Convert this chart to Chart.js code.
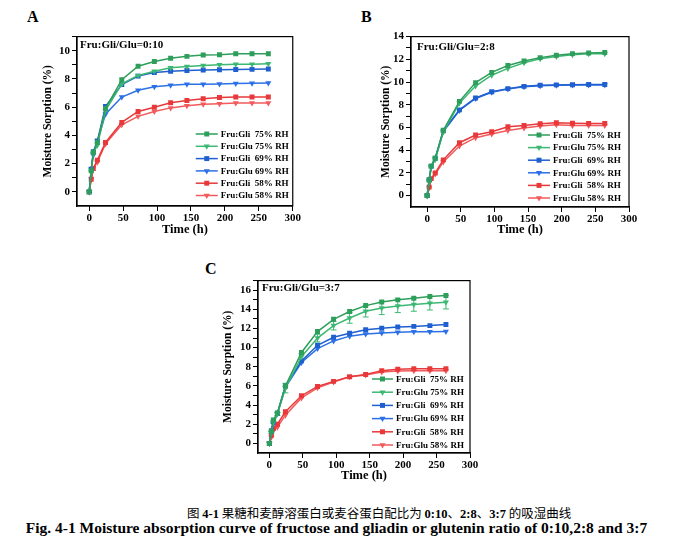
<!DOCTYPE html>
<html>
<head>
<meta charset="utf-8">
<script src="https://cdn.jsdelivr.net/npm/chart.js@4.4.1/dist/chart.umd.min.js"></script>
<style>
  body { margin: 0; background: #fff; width: 673px; height: 559px; position: relative; overflow: hidden; }
  canvas { position: absolute; }
  .tag { position: absolute; font: bold 16px "Liberation Serif", serif; color: #000; }
  .cap { position: absolute; white-space: nowrap; color: #000; }
  .num { font-family: "Liberation Serif", serif; font-weight: bold; }
</style>
</head>
<body>
<div class="tag" style="left:27px;top:8px">A</div>
<div class="tag" style="left:361px;top:8px">B</div>
<div class="tag" style="left:205px;top:260px">C</div>

<canvas id="chartA" width="272" height="215" style="left:30px;top:28px"></canvas>
<canvas id="chartB" width="274" height="217" style="left:365px;top:28px"></canvas>
<canvas id="chartC" width="268" height="218" style="left:212px;top:272px"></canvas>

<div class="cap" style="left:187px;top:503px;font-size:12.5px;font-family:'Noto Sans CJK SC',sans-serif">图 <span class="num">4-1</span> 果糖和麦醇溶蛋白或麦谷蛋白配比为 <span class="num">0:10</span>、<span class="num">2:8</span>、<span class="num">3:7</span> 的吸湿曲线</div>
<div class="cap" style="left:0;width:673px;text-align:center;top:519px;font:bold 15.5px 'Liberation Serif',serif">Fig. 4-1 Moisture absorption curve of fructose and gliadin or glutenin ratio of 0:10,2:8 and 3:7</div>

<script>
const hours = [0, 3, 6, 12, 24, 48, 72, 96, 120, 144, 168, 192, 216, 240, 264];

const seriesNames = ["Fru:Gli  75% RH", "Fru:Glu 75% RH", "Fru:Gli  69% RH", "Fru:Glu 69% RH", "Fru:Gli  58% RH", "Fru:Glu 58% RH"];
const seriesColors = ["#2e9e5b", "#3cb873", "#1f5fcf", "#2b70e6", "#e8383a", "#f25a5c"];
const seriesShapes = ["rect", "triangle", "rect", "triangle", "rect", "triangle"];

// panel A  Fru:Gli/Glu = 0:10
const aGli75 = [0, 1.5, 2.8, 3.5, 5.9, 7.95, 8.9, 9.23, 9.47, 9.6, 9.7, 9.72, 9.78, 9.78, 9.78];
const aGlu75 = [0, 1.4, 2.7, 3.3, 5.75, 7.65, 8.25, 8.55, 8.8, 8.88, 8.95, 9.0, 9.05, 9.05, 9.07];
const aGli69 = [0, 1.6, 2.85, 3.6, 6.05, 7.6, 8.2, 8.45, 8.55, 8.6, 8.63, 8.65, 8.67, 8.68, 8.7];
const aGlu69 = [0, 1.6, 2.6, 3.6, 5.5, 6.72, 7.2, 7.45, 7.55, 7.62, 7.63, 7.65, 7.68, 7.7, 7.72];
const aGli58 = [0, 0.9, 1.65, 2.25, 3.5, 4.92, 5.7, 6.0, 6.32, 6.48, 6.6, 6.68, 6.72, 6.72, 6.72];
const aGlu58 = [0, 0.9, 1.7, 2.1, 3.4, 4.75, 5.35, 5.7, 5.95, 6.1, 6.2, 6.25, 6.3, 6.3, 6.3];

// panel B  2:8
const bGli75 = [0, 1.4, 2.6, 3.3, 5.75, 8.3, 9.95, 10.85, 11.45, 11.85, 12.15, 12.35, 12.5, 12.55, 12.6];
const bGlu75 = [0, 1.2, 2.5, 3.2, 5.6, 8.15, 9.65, 10.6, 11.2, 11.7, 12.05, 12.25, 12.4, 12.5, 12.5];
const bGli69 = [0, 1.4, 2.6, 3.3, 5.7, 7.55, 8.6, 9.15, 9.42, 9.62, 9.72, 9.75, 9.77, 9.78, 9.78];
const bGlu69 = [0, 1.3, 2.5, 3.2, 5.65, 7.5, 8.55, 9.1, 9.38, 9.58, 9.68, 9.72, 9.74, 9.75, 9.75];
const bGli58 = [0, 0.75, 1.5, 2.0, 3.15, 4.66, 5.34, 5.63, 6.06, 6.18, 6.33, 6.41, 6.38, 6.36, 6.36];
const bGlu58 = [0, 0.67, 1.45, 1.9, 2.97, 4.37, 5.1, 5.42, 5.74, 5.95, 6.12, 6.24, 6.18, 6.18, 6.18];

// panel C  3:7
const cGli75 = [0, 1.25, 2.45, 3.17, 6.0, 9.5, 11.68, 12.96, 13.77, 14.39, 14.77, 14.99, 15.16, 15.33, 15.44];
const cGlu75 = [0, 1.15, 2.2, 3.07, 5.78, 9.06, 11.0, 12.3, 13.1, 13.8, 14.15, 14.36, 14.5, 14.63, 14.74];
const cGlu75Err = [0, 0.1, 0.1, 0.15, 0.5, 0.3, 0.4, 0.45, 0.55, 0.6, 0.7, 0.7, 0.7, 0.7, 0.7];
const cGli69 = [0, 1.32, 2.4, 3.15, 6.0, 8.62, 10.25, 11.08, 11.5, 11.86, 12.02, 12.15, 12.22, 12.3, 12.42];
const cGlu69 = [0, 1.15, 2.0, 3.1, 5.85, 8.45, 9.9, 10.7, 11.2, 11.42, 11.52, 11.62, 11.66, 11.67, 11.68];
const cGli58 = [0, 0.85, 1.55, 2.0, 3.3, 4.98, 5.95, 6.48, 6.97, 7.2, 7.6, 7.75, 7.8, 7.8, 7.8];
const cGlu58 = [0, 0.65, 1.35, 1.7, 2.95, 4.75, 5.8, 6.4, 6.95, 7.15, 7.45, 7.55, 7.58, 7.58, 7.58];

const serif = "'Liberation Serif', 'Times New Roman', serif";

// full black box round the plot area
const frameBox = {
  id: "frameBox",
  afterDatasetsDraw(chart) {
    const { ctx, chartArea: a } = chart;
    ctx.save();
    ctx.strokeStyle = "#000";
    ctx.lineWidth = 1.2;
    ctx.strokeRect(a.left, a.top, a.right - a.left, a.bottom - a.top);
    ctx.restore();
  }
};

// error bars for datasets that carry an "errors" array
const errorBars = {
  id: "errorBars",
  beforeDatasetsDraw(chart) {
    const { ctx, scales: { x, y } } = chart;
    chart.data.datasets.forEach((ds) => {
      if (!ds.errors) return;
      ctx.save();
      ctx.strokeStyle = ds.borderColor;
      ctx.lineWidth = 1;
      ds.data.forEach((p, i) => {
        const e = ds.errors[i];
        if (!e) return;
        const px = x.getPixelForValue(p.x);
        const y1 = y.getPixelForValue(p.y + e);
        const y2 = y.getPixelForValue(p.y - e);
        ctx.beginPath();
        ctx.moveTo(px, y1); ctx.lineTo(px, y2);
        ctx.moveTo(px - 3, y1); ctx.lineTo(px + 3, y1);
        ctx.moveTo(px - 3, y2); ctx.lineTo(px + 3, y2);
        ctx.stroke();
      });
      ctx.restore();
    });
  }
};

function drawMarker(ctx, shape, x, y, r) {
  ctx.beginPath();
  if (shape === "rect") {
    const s = r * Math.SQRT1_2;
    ctx.rect(x - s, y - s, 2 * s, 2 * s);
  } else {
    ctx.moveTo(x - r * 0.866, y - r * 0.5);
    ctx.lineTo(x + r * 0.866, y - r * 0.5);
    ctx.lineTo(x, y + r);
    ctx.closePath();
  }
  ctx.fill();
}

// legend drawn inside the plot, bottom right
const boxLegend = {
  id: "boxLegend",
  afterDraw(chart, args, opts) {
    const { ctx, chartArea: a } = chart;
    const x0 = a.right - opts.dx;
    ctx.save();
    chart.data.datasets.forEach((ds, i) => {
      const yy = a.bottom - opts.dy + i * opts.gap;
      ctx.strokeStyle = ds.borderColor;
      ctx.fillStyle = ds.borderColor;
      ctx.lineWidth = 1.5;
      ctx.beginPath();
      ctx.moveTo(x0, yy); ctx.lineTo(x0 + opts.len, yy);
      ctx.stroke();
      drawMarker(ctx, ds.pointStyle, x0 + opts.len / 2, yy, 3.5);
      ctx.fillStyle = "#000";
      ctx.font = "bold 9px " + serif;
      ctx.textBaseline = "middle";
      ctx.fillText(ds.label, x0 + opts.len + 3, yy + 0.5);
    });
    ctx.restore();
  }
};

const ratioNote = {
  id: "ratioNote",
  afterDraw(chart, args, opts) {
    const { ctx, chartArea: a } = chart;
    ctx.save();
    ctx.fillStyle = "#000";
    ctx.font = "bold 11px " + serif;
    ctx.textBaseline = "middle";
    ctx.fillText(opts.text, a.left + opts.dx, a.top + opts.dy);
    ctx.restore();
  }
};

function makeDatasets(seriesList, errList) {
  return seriesList.map((vals, k) => ({
    label: seriesNames[k],
    data: vals.map((v, i) => ({ x: hours[i], y: v })),
    errors: errList ? errList[k] : null,
    borderColor: seriesColors[k],
    backgroundColor: seriesColors[k],
    pointStyle: seriesShapes[k],
    pointRotation: seriesShapes[k] === "triangle" ? 180 : 0,
    pointRadius: 3.5,
    pointBorderWidth: 0,
    borderWidth: 1.5,
    tension: 0
  }));
}

function buildChart(id, seriesList, errList, p) {
  const tickFont = { family: serif, size: 11, weight: "bold" };
  return new Chart(document.getElementById(id), {
    type: "line",
    data: { datasets: makeDatasets(seriesList, errList) },
    options: {
      responsive: false,
      animation: false,
      layout: { padding: { left: 0, top: p.padTop, right: p.padRight, bottom: 0 } },
      plugins: {
        legend: { display: false },
        tooltip: { enabled: false },
        boxLegend: p.legend,
        ratioNote: p.note
      },
      scales: {
        x: {
          type: "linear",
          min: p.xMin,
          max: 300,
          afterFit: (s) => { s.height = p.xHeight; },
          afterBuildTicks: (s) => { s.ticks = s.ticks.filter((t) => t.value >= 0); },
          ticks: { stepSize: 50, includeBounds: false, color: "#000", font: tickFont, padding: 1, maxRotation: 0, autoSkip: false },
          grid: { drawOnChartArea: false, tickLength: 5, color: "#000" },
          border: { color: "#000", width: 1.2 },
          title: { display: true, text: "Time (h)", color: "#000", font: { family: serif, size: 12.5, weight: "bold" }, padding: { top: 0, bottom: p.xTitlePad } }
        },
        y: {
          min: -1,
          max: p.yMax,
          afterFit: (s) => { s.width = p.yWidth; },
          afterBuildTicks: (s) => { s.ticks = s.ticks.filter((t) => t.value >= 0); },
          ticks: {
            stepSize: 1, includeBounds: false, color: "#000", font: tickFont, padding: 2, autoSkip: false,
            callback: (v) => (v % 2 === 0 ? v : "")
          },
          grid: { drawOnChartArea: false, tickLength: 5, color: "#000" },
          border: { color: "#000", width: 1.2 },
          title: { display: true, text: "Moisture Sorption (%)", color: "#000", font: { family: serif, size: 11.5, weight: "bold" }, padding: { top: p.yTitlePad, bottom: 0 } }
        }
      }
    },
    plugins: [errorBars, frameBox, boxLegend, ratioNote]
  });
}

buildChart("chartA", [aGli75, aGlu75, aGli69, aGlu69, aGli58, aGlu58], null, {
  xMin: -18, yMax: 11, padTop: 6, padRight: 9, yWidth: 47, xHeight: 37, xTitlePad: 6, yTitlePad: 11,
  legend: { dx: 97, dy: 72, gap: 12.3, len: 22 },
  note: { text: "Fru:Gli/Glu=0:10", dx: 3, dy: 9 }
});

buildChart("chartB", [bGli75, bGlu75, bGli69, bGlu69, bGli58, bGlu58], null, {
  xMin: -24, yMax: 14, padTop: 8, padRight: 10, yWidth: 46, xHeight: 38, xTitlePad: 8, yTitlePad: 14,
  legend: { dx: 101, dy: 72, gap: 12.6, len: 22 },
  note: { text: "Fru:Gli/Glu=2:8", dx: 6, dy: 11 }
});

buildChart("chartC", [cGli75, cGlu75, cGli69, cGlu69, cGli58, cGlu58], [null, cGlu75Err, null, null, null, null], {
  xMin: -17, yMax: 17, padTop: 8, padRight: 10, yWidth: 46, xHeight: 37, xTitlePad: 7, yTitlePad: 9,
  legend: { dx: 98, dy: 74, gap: 13.2, len: 21 },
  note: { text: "Fru:Gli/Glu=3:7", dx: 4, dy: 8 }
});
</script>
</body>
</html>
